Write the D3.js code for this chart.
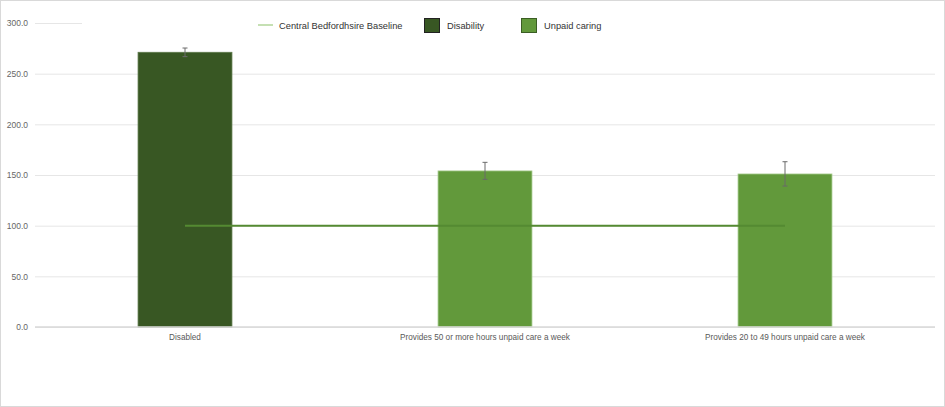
<!DOCTYPE html>
<html>
<head>
<meta charset="utf-8">
<script src="https://cdn.jsdelivr.net/npm/d3@7"></script>
<style>
  body { margin: 0; background: #fff; }
  svg { display: block; font-family: "Liberation Sans", Arial, sans-serif; }
</style>
</head>
<body>
<script>
var categories = ["Disabled", "Provides 50 or more hours unpaid care a week", "Provides 20 to 49 hours unpaid care a week"];
var groups = ["Disability", "Unpaid caring", "Unpaid caring"];
var values = [271.1, 154.0, 151.0];
var lower = [266.8, 145.7, 139.1];
var upper = [275.3, 162.5, 163.1];
var baseline = [100, 100, 100];
var yTicks = [0, 50, 100, 150, 200, 250, 300];

var w = 945;
var h = 407;
var colors = { "Disability": "#385723", "Unpaid caring": "#62993b" };

var svg = d3.select("body")
	.append("svg")
	.attr("width", w)
	.attr("height", h);

// outer border
svg.append("rect")
	.attr("x", 0.5).attr("y", 0.5)
	.attr("width", w - 1).attr("height", h - 1)
	.attr("fill", "#fff")
	.attr("stroke", "#d9d9d9");

var x = d3.scaleBand()
	.domain(categories)
	.range([35, 935])
	.padding(0);

var y = d3.scaleLinear()
	.domain([0, 300])
	.range([327, 23]);

// gridlines + y labels
var yAxis = d3.axisLeft(y)
	.tickValues(yTicks)
	.tickSize(-900)
	.tickFormat(d3.format(".1f"));

var gy = svg.append("g")
	.attr("transform", "translate(35,0)")
	.call(yAxis);
gy.select(".domain").remove();
gy.selectAll(".tick line")
	.attr("stroke", "#e6e6e6")
	.attr("stroke-width", 1);
gy.selectAll(".tick text")
	.attr("x", -7)
	.attr("fill", "#666")
	.attr("font-size", "8.5px");

// legend background hides the top gridline
svg.append("rect")
	.attr("x", 82).attr("y", 16)
	.attr("width", 860).attr("height", 16)
	.attr("fill", "#fff");

var bw = x.bandwidth() * 0.313;

svg.selectAll("rect.bar")
	.data(categories)
	.enter()
	.append("rect")
	.attr("class", "bar")
	.attr("x", function(d) { return x(d) + x.bandwidth() / 2 - bw / 2; })
	.attr("y", function(d, i) { return y(values[i]); })
	.attr("width", bw)
	.attr("height", function(d, i) { return y(0) - y(values[i]); })
	.attr("fill", function(d, i) { return colors[groups[i]]; })
	.attr("stroke", function(d, i) { return i === 0 ? "#5e7a4c" : "#a3c98a"; })
	.attr("stroke-width", 0.8);

// x axis line
svg.append("line")
	.attr("x1", 35).attr("x2", 935)
	.attr("y1", y(0)).attr("y2", y(0))
	.attr("stroke", "#d9d9d9")
	.attr("stroke-width", 1.5);

// baseline
var line = d3.line()
	.x(function(d, i) { return x(categories[i]) + x.bandwidth() / 2; })
	.y(function(d) { return y(d); });

svg.append("path")
	.datum(baseline)
	.attr("d", line)
	.attr("fill", "none")
	.attr("stroke", "#548a32")
	.attr("stroke-width", 2);

// error bars
var eb = svg.selectAll("g.err")
	.data(categories)
	.enter()
	.append("g")
	.attr("class", "err")
	.attr("stroke", "#6a6a6a")
	.attr("stroke-width", 1);

eb.append("line")
	.attr("x1", function(d) { return x(d) + x.bandwidth() / 2; })
	.attr("x2", function(d) { return x(d) + x.bandwidth() / 2; })
	.attr("y1", function(d, i) { return y(upper[i]); })
	.attr("y2", function(d, i) { return y(lower[i]); });
eb.append("line")
	.attr("x1", function(d) { return x(d) + x.bandwidth() / 2 - 2.5; })
	.attr("x2", function(d) { return x(d) + x.bandwidth() / 2 + 2.5; })
	.attr("y1", function(d, i) { return y(upper[i]); })
	.attr("y2", function(d, i) { return y(upper[i]); });
eb.append("line")
	.attr("x1", function(d) { return x(d) + x.bandwidth() / 2 - 2.5; })
	.attr("x2", function(d) { return x(d) + x.bandwidth() / 2 + 2.5; })
	.attr("y1", function(d, i) { return y(lower[i]); })
	.attr("y2", function(d, i) { return y(lower[i]); });

// category labels
svg.selectAll("text.cat")
	.data(categories)
	.enter()
	.append("text")
	.attr("class", "cat")
	.text(function(d) { return d; })
	.attr("text-anchor", "middle")
	.attr("font-size", "8.2px")
	.attr("fill", "#595959")
	.attr("x", function(d) { return x(d) + x.bandwidth() / 2; })
	.attr("y", 340);

// legend
var lg = svg.append("g").attr("font-size", "9.3px").attr("fill", "#333");
lg.append("line")
	.attr("x1", 258).attr("x2", 273)
	.attr("y1", 25).attr("y2", 25)
	.attr("stroke", "#c5e0b3")
	.attr("stroke-width", 2);
lg.append("text").attr("x", 279).attr("y", 28.5).text("Central Bedfordhsire Baseline");

lg.append("rect")
	.attr("x", 424.5).attr("y", 18.5).attr("width", 15).attr("height", 14)
	.attr("fill", colors["Disability"]).attr("stroke", "#222");
lg.append("text").attr("x", 447).attr("y", 28.5).text("Disability");

lg.append("rect")
	.attr("x", 521.5).attr("y", 18.5).attr("width", 15).attr("height", 14)
	.attr("fill", colors["Unpaid caring"]).attr("stroke", "#3b5e24");
lg.append("text").attr("x", 544).attr("y", 28.5).text("Unpaid caring");
</script>
</body>
</html>
